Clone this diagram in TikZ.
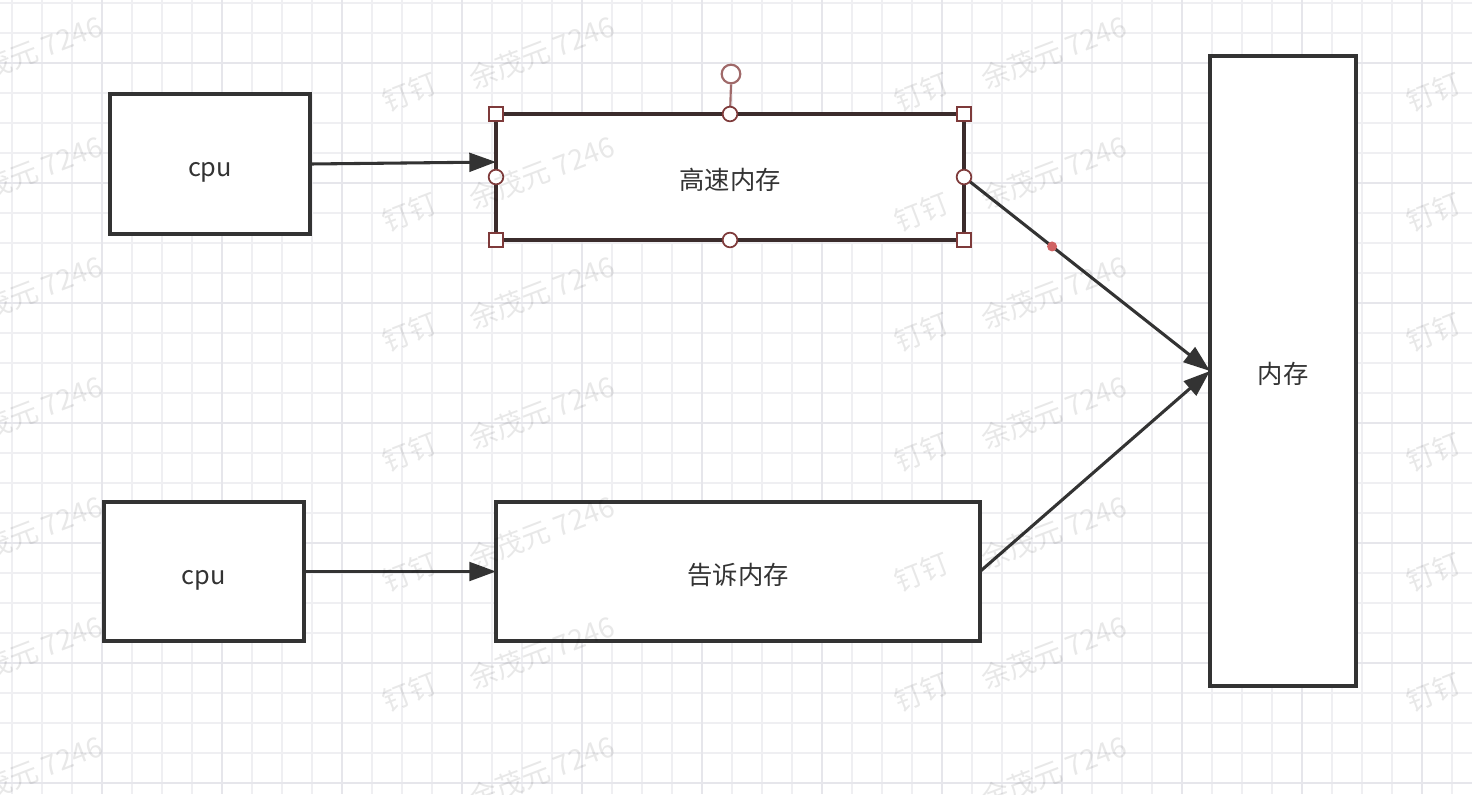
\documentclass[tikz,border=0pt]{standalone}
\usepackage{fontspec}
\newfontfamily\cjk{Noto Sans CJK SC}
\usetikzlibrary{arrows.meta,calc}
\definecolor{ink}{HTML}{333333}
\definecolor{selink}{HTML}{3B2C2C}
\definecolor{handle}{HTML}{7E3A3A}
\definecolor{handlelt}{HTML}{A06A6A}
\definecolor{dotred}{HTML}{D06262}
\definecolor{gminor}{HTML}{EFEFF2}
\definecolor{gmajor}{HTML}{E6E6EB}
\tikzset{
  box/.style={draw=ink, line width=2.3pt, fill=white, rectangle, inner sep=0pt, outer sep=0pt,
    font=\cjk\fontsize{19}{22}\selectfont, text=ink, text height=19pt, text depth=0pt},
  selbox/.style={box, draw=selink},
  link/.style={draw=ink, line width=2.3pt, -{Triangle[length=20pt,width=14pt]}},
  sqhandle/.style={draw=handle, line width=1.3pt, fill=white, rectangle, minimum size=11pt, inner sep=0pt},
  cihandle/.style={draw=handle, line width=1.3pt, fill=white, circle, minimum size=11pt, inner sep=0pt},
  rothandle/.style={draw=handlelt, line width=1.6pt, fill=white, circle, minimum size=14pt, inner sep=0pt},
  wm/.style={text=black, text opacity=0.09, font=\cjk\fontsize{21}{24}\selectfont, rotate=21, inner sep=0pt},
  minor/.style={draw=gminor, line width=1.5pt},
  major/.style={draw=gmajor, line width=1.6pt}
}
\begin{document}
\begin{tikzpicture}[x=0.75pt,y=-0.75pt]
\useasboundingbox (0,0) rectangle (1472,794);
\fill[white] (0,0) rectangle (1472,794);
% grid
\foreach \x in {11.7,41.7,...,1472} \draw[minor] (\x,0) -- (\x,794);
\foreach \y in {3.3,33.3,...,794} \draw[minor] (0,\y) -- (1472,\y);
\foreach \x in {101.7,221.7,...,1472} \draw[major] (\x,0) -- (\x,794);
\foreach \y in {63.3,183.3,...,794} \draw[major] (0,\y) -- (1472,\y);

% boxes
\node[box, minimum width=150pt, minimum height=105pt] (cpu1) at (210,164) {cpu};
\node[box, minimum width=150pt, minimum height=104.25pt] (cpu2) at (204,571.5) {cpu};
\node[selbox, minimum width=351pt, minimum height=94.5pt] (hs) at (730,177) {高速内存};
\node[box, minimum width=363pt, minimum height=104.25pt] (gs) at (738,571.5) {告诉内存};
\node[box, minimum width=109.5pt, minimum height=472.5pt] (mem) at (1283,371) {内存};

% connectors
\coordinate (hsin) at ($(hs.west)+(0,-15)$);
\draw[link] (cpu1.east) -- (hsin);
\draw[link] (cpu2.east) -- (gs.west);
\draw[link] (hs.east) -- node[pos=0.358, circle, fill=dotred, inner sep=0pt, minimum size=7.5pt] (dot) {} (mem.west);
\draw[link] (gs.east) -- (mem.west);

% selection handles
\node[rothandle] (rot) at (731,74) {};
\draw[draw=handlelt, line width=1.6pt] (rot.south) -- (hs.north);
\node[sqhandle] (h1) at (hs.north west) {};
\node[sqhandle] (h2) at (hs.north east) {};
\node[sqhandle] (h3) at (hs.south west) {};
\node[sqhandle] (h4) at (hs.south east) {};
\node[cihandle] (h5) at (hs.north) {};
\node[cihandle] (h6) at (hs.south) {};
\node[cihandle] (h7) at (hs.west) {};
\node[cihandle] (h8) at (hs.east) {};

% watermarks
\foreach \i in {0,1,2} {
  \foreach \j in {0,...,6} {
    \node[wm] (wa-\i-\j) at ({30+512*\i},{52+120*\j}) {余茂元 7246};
  }
}
\foreach \i in {0,1,2} {
  \foreach \j in {0,...,5} {
    \node[wm] (wb-\i-\j) at ({410+512*\i},{92+120*\j}) {钉钉};
  }
}
\end{tikzpicture}
\end{document}
